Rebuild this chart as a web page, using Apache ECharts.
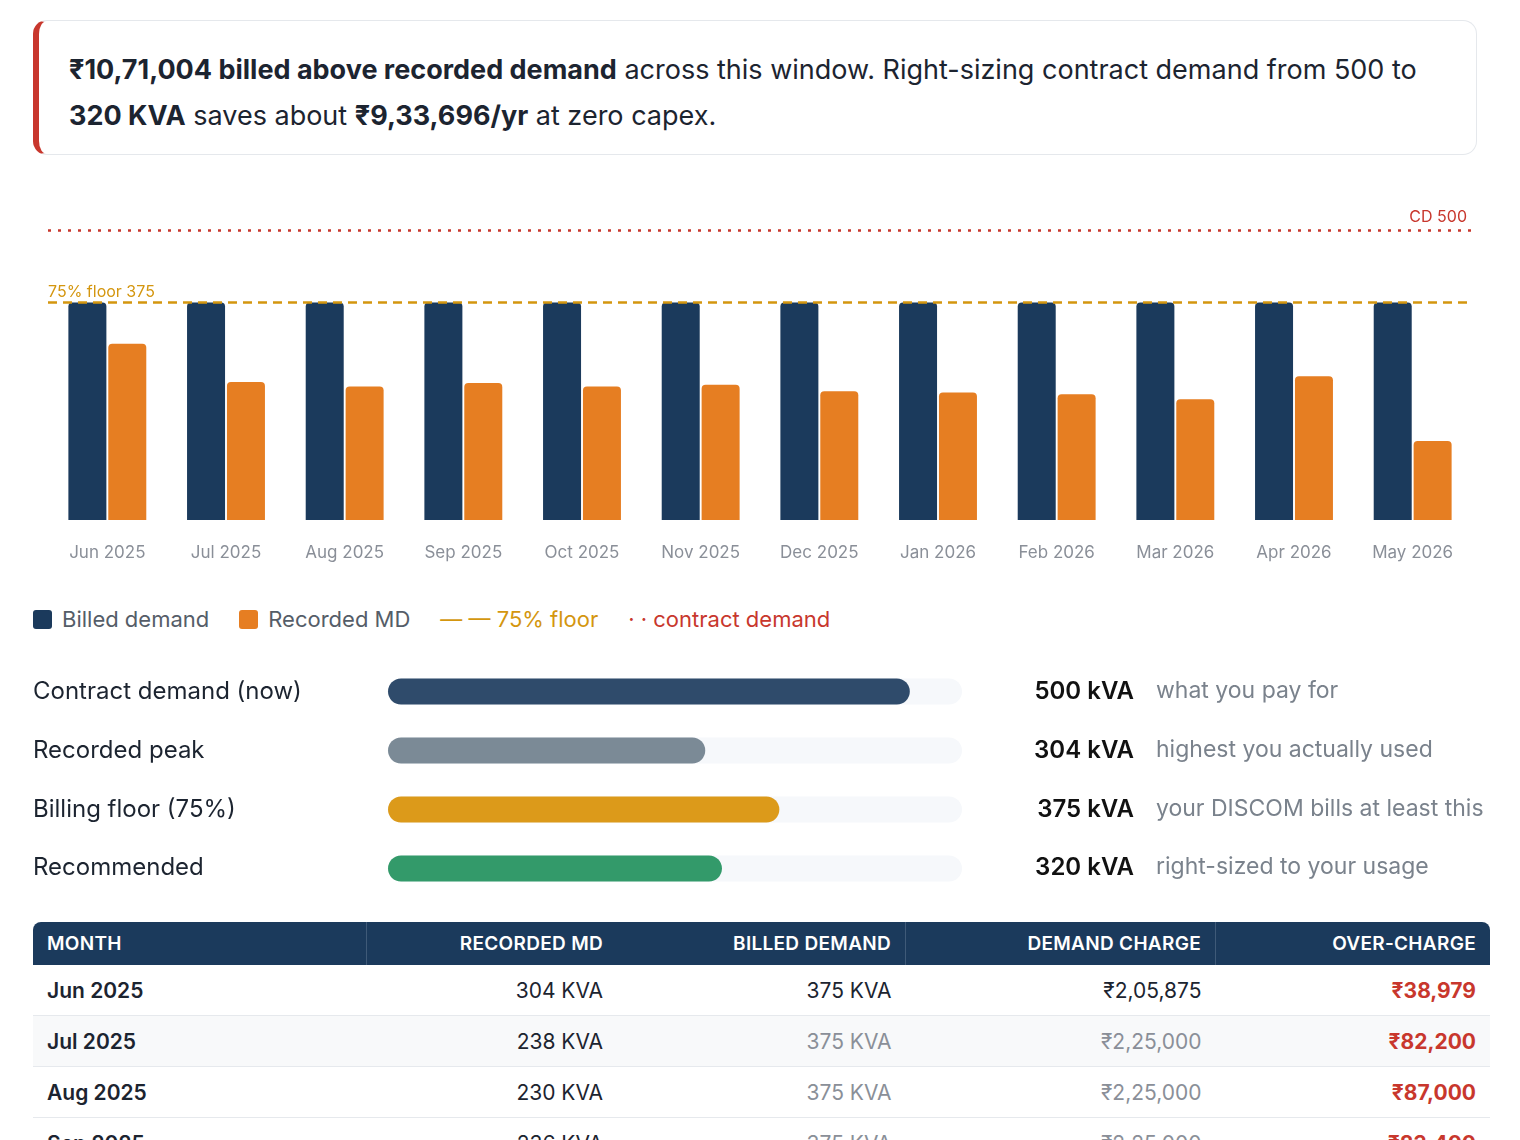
<!DOCTYPE html>
<html lang="en">
<head>
<meta charset="UTF-8">
<title>Demand right-sizing</title>
<script src="https://cdn.jsdelivr.net/npm/echarts@6/dist/echarts.min.js"></script>
<style>
  html, body { margin:0; padding:0; background:#fff; overflow:hidden; width:1520px; height:1140px; font-family: Inter, "Noto Sans", sans-serif; color:#1c2430; }
  .abs { position:absolute; }
  #callout { left:33px; top:20px; width:1444px; height:135px; border:1.5px solid #e5e8ec; border-left:6px solid #c8372d; border-radius:14px; box-sizing:border-box; padding:26px 30px 0 30px; font-size:27px; line-height:46px; }
  #callout b { font-weight:700; }
  #legend { left:33px; top:606px; font-size:22px; color:#555d68; display:flex; align-items:center; }
  #legend .sw { display:inline-block; width:19px; height:19px; border-radius:3px; margin-right:10px; vertical-align:middle; }
  #legend span.it { margin-right:30px; display:flex; align-items:center; }
  .rowlab { left:33px; font-size:24px; color:#1c2430; }
  .rowval { width:1134px; left:0; text-align:right; font-size:24px; font-weight:600; color:#111; }
  .rownote { left:1156px; font-size:23px; color:#7a828c; }
  table { position:absolute; left:33px; top:922px; width:1457px; border-collapse:collapse; font-size:21px; }
  th { background:#1b3a5c; color:#fff; font-weight:600; height:43px; font-size:19px; letter-spacing:0.3px; padding:0 14px; }
  td { height:50px; padding:0 14px; border-bottom:1.5px solid #e6e9ed; }
  th:first-child { border-radius:8px 0 0 0; }
  th:last-child { border-radius:0 8px 0 0; }
  .l { text-align:left; } .r { text-align:right; }
  .sep { border-left:1.5px solid #3f5a78; }
  .m { font-weight:600; }
  .g { color:#8a8f98; }
  .oc { color:#c8372d; font-weight:700; }
  tr.alt td { background:#f8f9fa; }
</style>
</head>
<body>
<div id="callout" class="abs"><b>₹10,71,004 billed above recorded demand</b> across this window. Right-sizing contract demand from 500 to <b>320 KVA</b> saves about <b>₹9,33,696/yr</b> at zero capex.</div>

<div id="chart" class="abs" style="left:0;top:190px;width:1520px;height:380px;"></div>

<div id="legend" class="abs">
  <span class="it"><span class="sw" style="background:#1b3a5c"></span>Billed demand</span>
  <span class="it"><span class="sw" style="background:#e67e22"></span>Recorded MD</span>
  <span class="it" style="color:#d4960f">— — 75% floor</span>
  <span class="it" style="color:#c8372d">· · contract demand</span>
</div>

<div id="bars" class="abs" style="left:0;top:662px;width:1520px;height:236px;"></div>
<div id="barText"></div>

<table id="tbl"></table>

<script>
var months = ['Jun 2025','Jul 2025','Aug 2025','Sep 2025','Oct 2025','Nov 2025','Dec 2025','Jan 2026','Feb 2026','Mar 2026','Apr 2026','May 2026'];
var billed = [375,375,375,375,375,375,375,375,375,375,375,375];
var recorded = [304,238,230,236,230,233,222,220,217,208,248,136];
var contractDemand = 500;
var floorDemand = 375;

var sumLabels = ['Contract demand (now)','Recorded peak','Billing floor (75%)','Recommended'];
var sumValues = [500,304,375,320];
var sumNotes = ['what you pay for','highest you actually used','your DISCOM bills at least this','right-sized to your usage'];
var sumColors = ['#2f4b6b','#7b8a96','#dc9a1a','#339a6a'];

var tblMonths = ['Jun 2025','Jul 2025','Aug 2025','Sep 2025'];
var tblRecorded = ['304 KVA','238 KVA','230 KVA','236 KVA'];
var tblBilled = ['375 KVA','375 KVA','375 KVA','375 KVA'];
var tblCharge = ['₹2,05,875','₹2,25,000','₹2,25,000','₹2,25,000'];
var tblOver = ['₹38,979','₹82,200','₹87,000','₹83,400'];

var chart = echarts.init(document.getElementById('chart'));
chart.setOption({
  animation:false,
  grid:{left:48,right:48,top:40,bottom:50},
  xAxis:{type:'category',data:months,axisLine:{show:false},axisTick:{show:false},
    axisLabel:{color:'#8a8f98',fontSize:17,margin:24,fontFamily:'Inter'}},
  yAxis:{type:'value',min:0,max:500,show:false,splitLine:{show:false}},
  series:[
    {type:'bar',data:billed,barWidth:38,barGap:'5%',itemStyle:{color:'#1b3a5c',borderRadius:[4,4,0,0]},
      markLine:{symbol:'none',silent:true,data:[
        {yAxis:contractDemand,lineStyle:{color:'#c8372d',type:[3,7],width:2.5},
          label:{formatter:'CD 500',position:'insideEndTop',color:'#c8372d',fontSize:16,fontFamily:'Inter'}},
        {yAxis:floorDemand,lineStyle:{color:'#d4960f',type:[9,6],width:2.5},
          label:{formatter:'75% floor 375',position:'insideStartTop',color:'#d4960f',fontSize:16,fontFamily:'Inter',distance:[0,2]}}
      ]}},
    {type:'bar',data:recorded,barWidth:38,itemStyle:{color:'#e67e22',borderRadius:[4,4,0,0]}}
  ]
});

var bars = echarts.init(document.getElementById('bars'));
bars.setOption({
  animation:false,
  grid:{left:388,width:574,top:0,height:236},
  xAxis:{type:'value',min:0,max:550,show:false},
  yAxis:{type:'category',data:sumLabels,inverse:true,show:false},
  series:[{type:'bar',barWidth:26,showBackground:true,
    backgroundStyle:{color:'#f6f8fb',borderRadius:13},
    data:sumValues.map(function(v,i){return {value:v,itemStyle:{color:sumColors[i],borderRadius:13}};})}]
});

var tops = [676,735,794,852];
var html = '';
for (var i=0;i<sumLabels.length;i++){
  html += '<div class="abs rowlab" style="top:'+tops[i]+'px">'+sumLabels[i]+'</div>';
  html += '<div class="abs rowval" style="top:'+tops[i]+'px">'+sumValues[i]+' kVA</div>';
  html += '<div class="abs rownote" style="top:'+tops[i]+'px">'+sumNotes[i]+'</div>';
}
document.getElementById('barText').innerHTML = html;

var t = '<tr><th class="l" style="width:305px">MONTH</th><th class="r sep" style="width:222px">RECORDED MD</th><th class="r" style="width:260px">BILLED DEMAND</th><th class="r sep" style="width:281px">DEMAND CHARGE</th><th class="r sep">OVER-CHARGE</th></tr>';
for (var j=0;j<tblMonths.length;j++){
  var g = j>0 ? ' g' : '';
  t += '<tr'+(j===1?' class="alt"':'')+'><td class="l m">'+tblMonths[j]+'</td><td class="r">'+tblRecorded[j]+'</td><td class="r'+g+'">'+tblBilled[j]+'</td><td class="r'+g+'">'+tblCharge[j]+'</td><td class="r oc">'+tblOver[j]+'</td></tr>';
}
document.getElementById('tbl').innerHTML = t;
</script>
</body>
</html>
